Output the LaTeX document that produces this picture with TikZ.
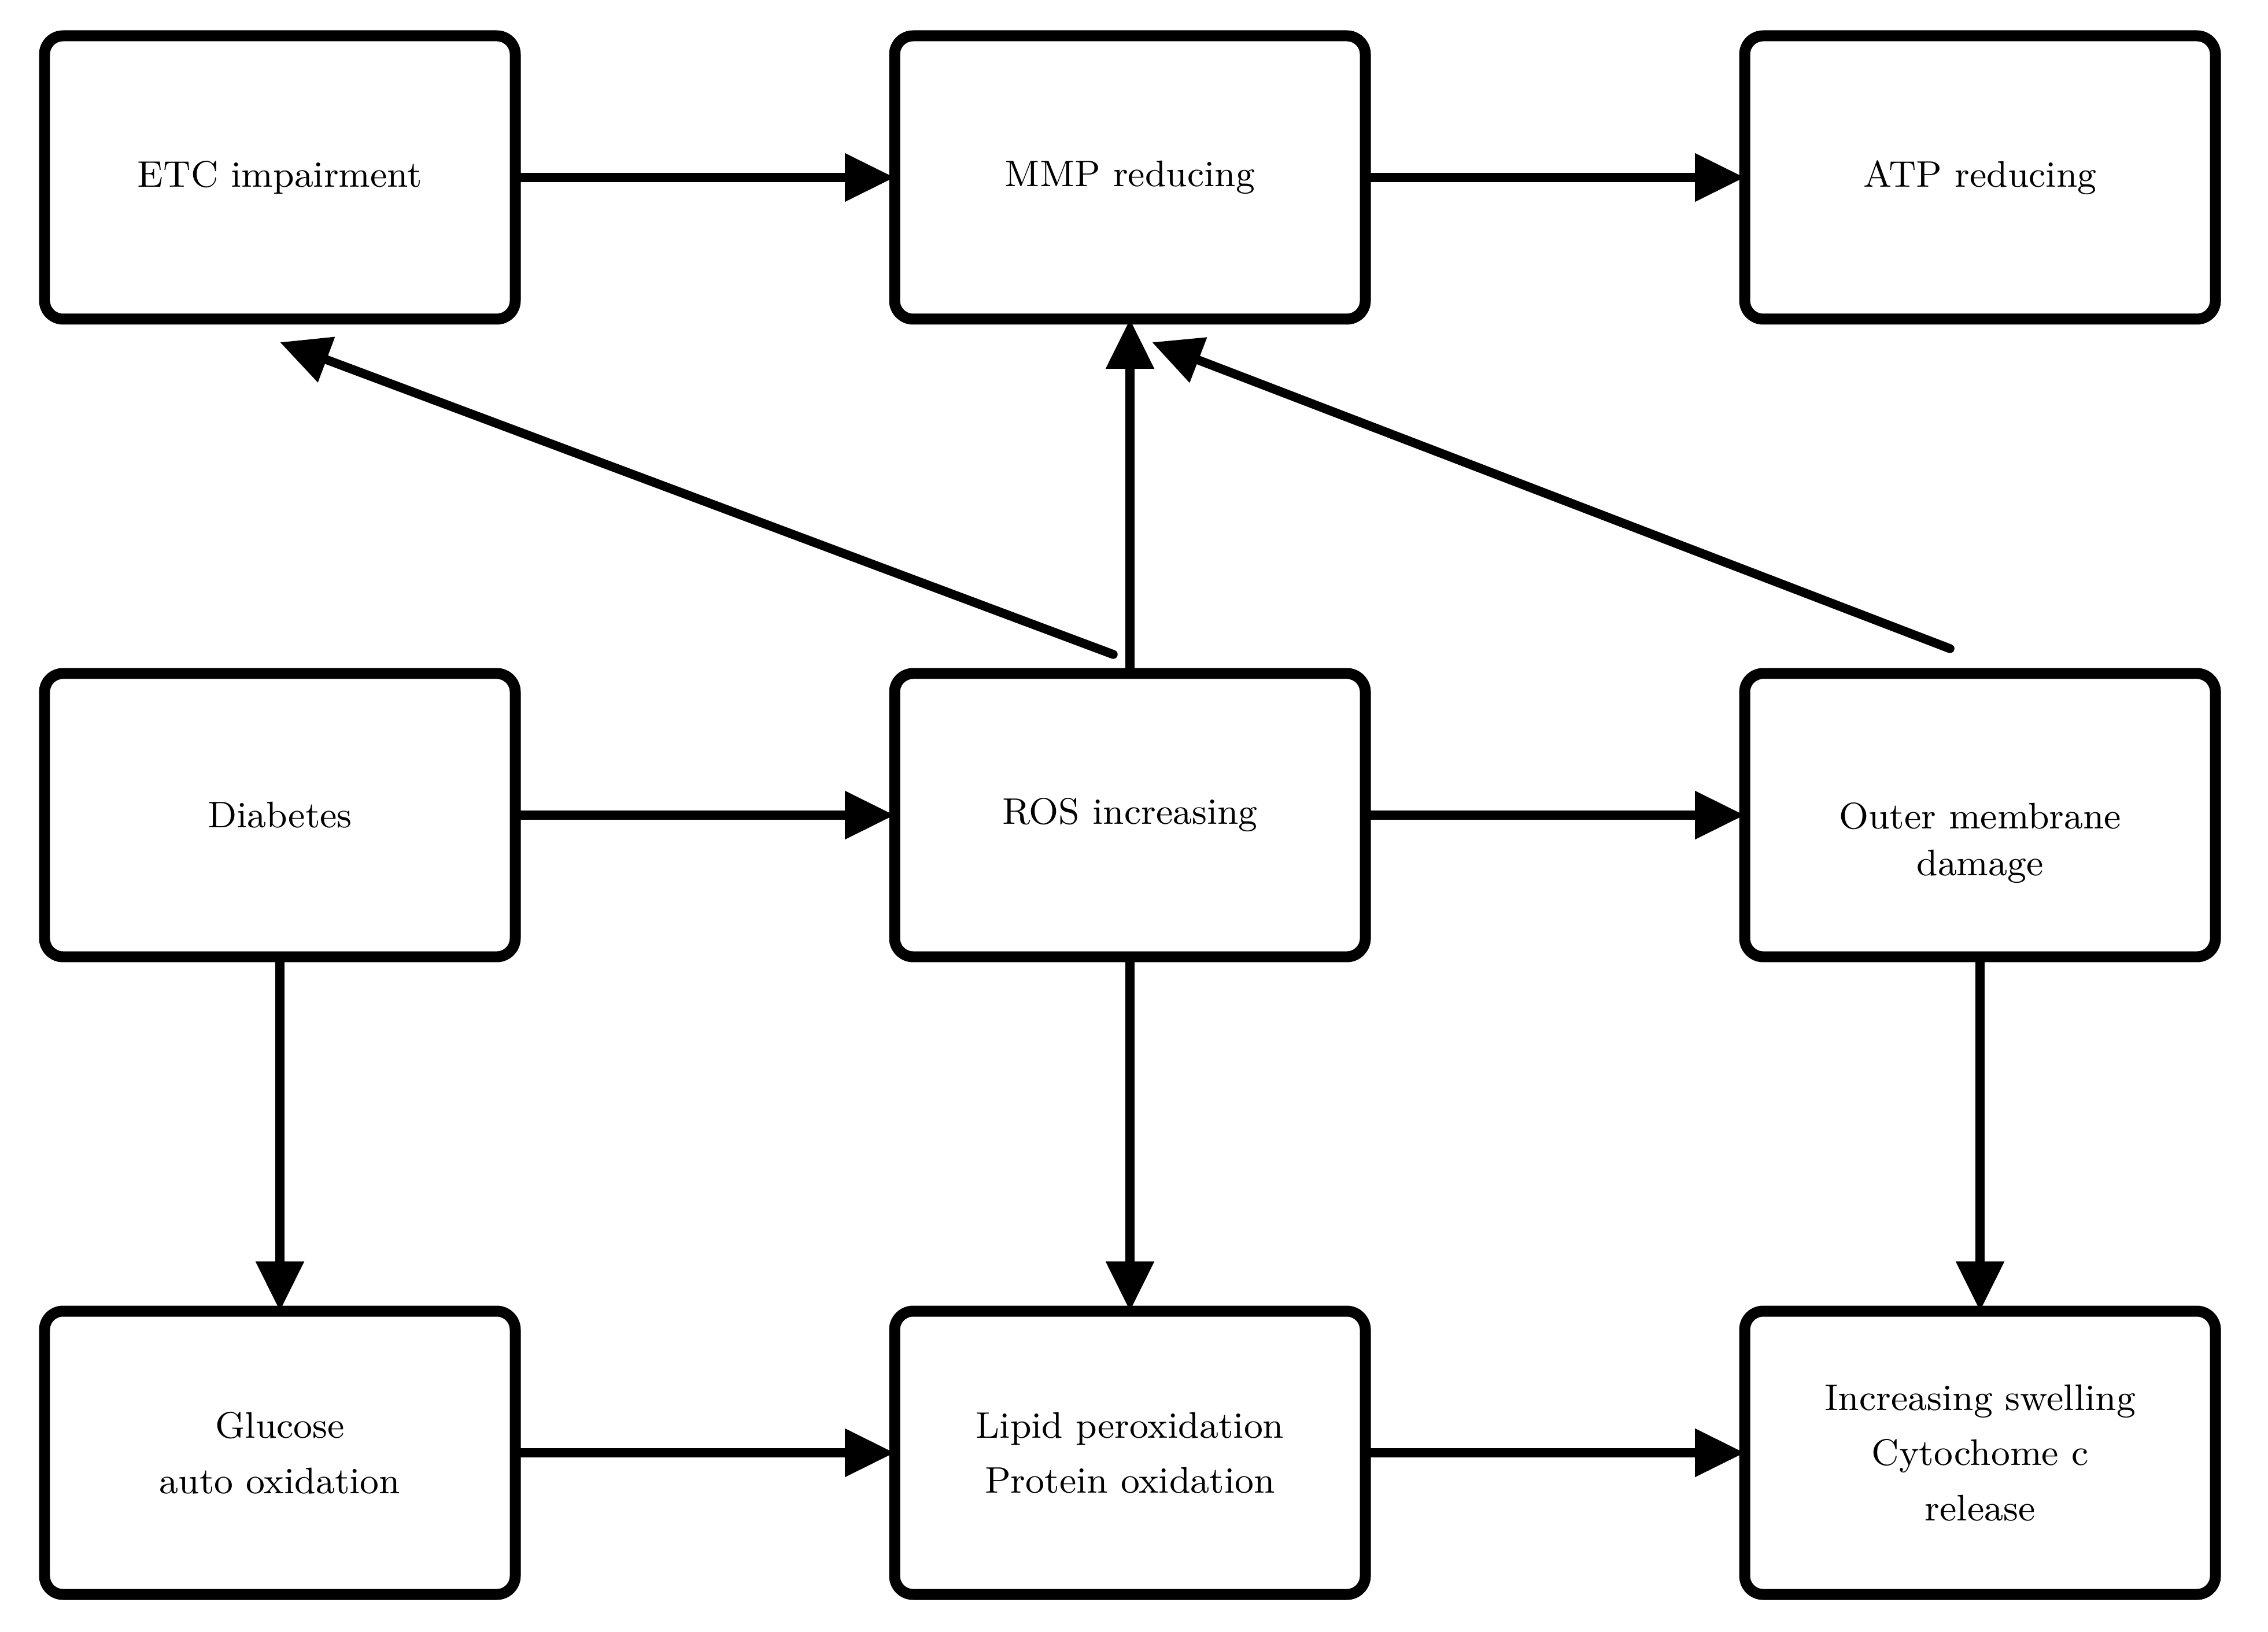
\documentclass[tikz,border=0pt]{standalone}
\usetikzlibrary{positioning,arrows.meta}
\begin{document}
\begin{tikzpicture}[box/.style={rectangle,draw,rounded corners=1.6mm,line width=2.7pt,minimum width=4.07cm,minimum height=2.45cm,align=center,outer sep=0pt,font=\fontsize{9.1}{13.6}\selectfont},
  arr/.style={-{Triangle[length=4.3mm,width=4mm]},line width=2.2pt,line cap=round},
  node distance=3.065cm and 3.28cm]
\useasboundingbox (0,0) rectangle (19.61,14.11);
\node [box] (etc) at (2.42,12.575) {ETC impairment};
\node [box,right=of etc] (mmp) {MMP reducing};
\node [box,right=of mmp] (atp) {ATP reducing};
\node [box,below=of etc] (diab) {Diabetes};
\node [box,below=of mmp] (ros) {ROS increasing};
\node [box,below=of atp,font=\fontsize{9.1}{11.4}\selectfont] (outer) {\raisebox{-2.4mm}[\height][\depth]{\begin{tabular}{@{}c@{}}Outer membrane\\damage\end{tabular}}};
\node [box,below=of diab] (gluc) {Glucose\\auto oxidation};
\node [box,below=of ros] (lipid) {Lipid peroxidation\\Protein oxidation};
\node [box,below=of outer] (swell) {Increasing swelling\\Cytochome c\\release};
% rows
\draw [arr] (etc) -- (mmp);
\draw [arr] (mmp) -- (atp);
\draw [arr] (diab) -- (ros);
\draw [arr] (ros) -- (outer);
\draw [arr] (gluc) -- (lipid);
\draw [arr] (lipid) -- (swell);
% columns
\draw [arr] (diab) -- (gluc);
\draw [arr] (ros) -- (lipid);
\draw [arr] (outer) -- (swell);
\draw [arr] (ros) -- (mmp);
\draw [arr] ([xshift=-1.45mm,yshift=1.65mm]ros.north) -- ([yshift=-2mm]etc.south);
\draw [arr] ([xshift=-2.6mm,yshift=2.15mm]outer.north) -- ([xshift=1.9mm,yshift=-2mm]mmp.south);
\end{tikzpicture}
\end{document}
